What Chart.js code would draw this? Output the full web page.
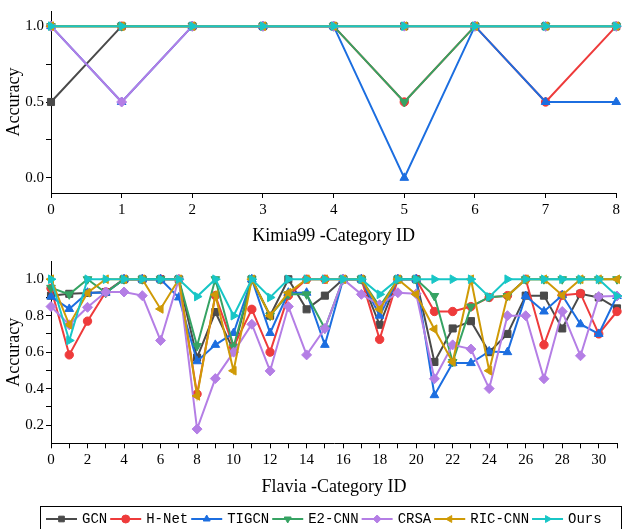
<!DOCTYPE html>
<html>
<head>
<meta charset="utf-8">
<script src="https://cdn.jsdelivr.net/npm/chart.js@4.4.0/dist/chart.umd.min.js"></script>
<style>
  body { margin: 0; background: #fff; }
  #wrap { position: relative; width: 623px; height: 529px; overflow: hidden; }
  canvas { position: absolute; left: 0; }
</style>
</head>
<body>
<div id="wrap">
  <canvas id="kimia" width="623" height="250" style="top:0px"></canvas>
  <canvas id="flavia" width="623" height="279" style="top:250px"></canvas>
</div>
<script>
// 手法
const methods = ['GCN', 'H-Net', 'TIGCN', 'E2-CNN', 'CRSA', 'RIC-CNN', 'Ours'];

// Kimia99
const kimiaIds = [0, 1, 2, 3, 4, 5, 6, 7, 8];
const kimiaYTicks = [0, 0.25, 0.5, 0.75, 1.0];
const kimiaGCN = [0.5, 1, 1, 1, 1, 1, 1, 1, 1];
const kimiaHNet = [1, 1, 1, 1, 1, 0.5, 1, 0.5, 1];
const kimiaTIGCN = [1, 0.5, 1, 1, 1, 0, 1, 0.5, 0.5];
const kimiaE2CNN = [1, 1, 1, 1, 1, 0.5, 1, 1, 1];
const kimiaCRSA = [1, 0.5, 1, 1, 1, 1, 1, 1, 1];
const kimiaRIC = [1, 1, 1, 1, 1, 1, 1, 1, 1];
const kimiaOurs = [1, 1, 1, 1, 1, 1, 1, 1, 1];

// Flavia
const flaviaIds = [0, 1, 2, 3, 4, 5, 6, 7, 8, 9, 10, 11, 12, 13, 14, 15, 16, 17, 18, 19, 20, 21, 22, 23, 24, 25, 26, 27, 28, 29, 30, 31];
const flaviaYTicks = [0.2, 0.3, 0.4, 0.5, 0.6, 0.7, 0.8, 0.9, 1.0];
const flaviaGCN = [0.91, 0.92, 0.925, 0.93, 1, 1, 1, 1, 0.57, 0.82, 0.61, 1, 0.80, 1, 0.835, 0.91, 1, 1, 0.75, 1, 1, 0.546, 0.73, 0.77, 0.60, 0.70, 0.91, 0.91, 0.73, 0.92, 0.90, 0.84];
const flaviaHNet = [0.95, 0.585, 0.77, 0.93, 1, 1, 1, 1, 0.37, 0.91, 0.63, 0.835, 0.60, 0.91, 1, 1, 1, 1, 0.67, 1, 1, 0.823, 0.823, 0.85, 0.90, 0.91, 1, 0.64, 0.912, 0.922, 0.70, 0.823];
const flaviaTIGCN = [0.905, 0.837, 0.926, 0.926, 1, 1, 1, 0.90, 0.55, 0.64, 0.705, 1, 0.705, 0.926, 0.926, 0.64, 1, 1, 0.80, 1, 1, 0.364, 0.54, 0.54, 0.604, 0.60, 0.908, 0.823, 0.912, 0.753, 0.70, 0.908];
const flaviaE2CNN = [0.953, 0.917, 1, 0.926, 1, 1, 1, 1, 0.634, 1, 0.63, 1, 0.80, 0.917, 0.917, 0.73, 1, 1, 0.85, 1, 1, 0.908, 0.546, 0.85, 0.903, 0.908, 1, 1, 1, 1, 1, 1];
const flaviaCRSA = [0.85, 0.75, 0.846, 0.93, 0.93, 0.91, 0.664, 1, 0.178, 0.455, 0.60, 0.753, 0.497, 0.85, 0.585, 0.73, 1, 0.917, 0.86, 0.926, 0.92, 0.454, 0.64, 0.617, 0.40, 0.80, 0.80, 0.454, 0.823, 0.58, 0.905, 0.908];
const flaviaRIC = [1, 0.75, 0.926, 1, 1, 1, 0.837, 1, 0.36, 0.915, 0.498, 1, 0.80, 0.926, 1, 1, 1, 1, 0.835, 1, 0.917, 0.726, 0.546, 1, 0.498, 0.908, 1, 1, 0.912, 1, 1, 1];
const flaviaOurs = [1, 0.664, 1, 1, 1, 1, 1, 1, 0.905, 1, 0.80, 1, 0.90, 1, 1, 1, 1, 1, 0.917, 1, 1, 1, 1, 1, 0.903, 1, 1, 1, 1, 1, 1, 0.908];

// 見た目
const colors = ['#4a4a4a', '#ee3b3b', '#1c6ee0', '#36a363', '#b47ee5', '#cf9a06', '#18c6c6'];
const markers = ['rect', 'circle', 'triangle', 'triangle', 'rectRot', 'triangle', 'triangle'];
const rotations = [0, 0, 0, 180, 0, 270, 90];
const sizes = [5, 4.2, 5, 5, 5, 5, 5];
const serif = 'Liberation Serif';

function makeSets(ids, series) {
  return methods.map((name, k) => ({
    label: name,
    data: ids.map((id, i) => ({ x: id, y: series[k][i] })),
    borderColor: colors[k],
    backgroundColor: colors[k],
    pointStyle: markers[k],
    rotation: rotations[k],
    pointRadius: sizes[k],
    pointHoverRadius: sizes[k],
    pointBorderWidth: 1,
    borderWidth: 2,
    tension: 0,
    clip: 8,
    order: methods.length - k // 後の手法ほど上に描く
  }));
}

function axisX(ids, maxV, title, labelEvery, height, titlePad) {
  return {
    type: 'linear', min: 0, max: maxV,
    afterBuildTicks: s => { s.ticks = ids.map(v => ({ value: v })); },
    afterFit: s => { s.height = height; },
    ticks: {
      autoSkip: false, maxRotation: 0, padding: 3, color: '#000',
      font: { family: serif, size: 15 },
      callback: v => (v % labelEvery === 0 ? String(v) : '')
    },
    grid: { drawOnChartArea: false, color: '#000', tickLength: 5 },
    border: { color: '#000', width: 1 },
    title: { display: true, text: title, color: '#000', font: { family: serif, size: 18 }, padding: { top: 0, bottom: titlePad } }
  };
}

function axisY(minV, maxV, tickVals, isMajor) {
  return {
    min: minV, max: maxV,
    afterBuildTicks: s => { s.ticks = tickVals.map(v => ({ value: v })); },
    afterFit: s => { s.width = 51; },
    ticks: {
      padding: 2, color: '#000',
      font: { family: serif, size: 15 },
      callback: v => (isMajor(v) ? v.toFixed(1) : '')
    },
    grid: { drawOnChartArea: false, color: '#000', tickLength: 5 },
    border: { color: '#000', width: 1 },
    title: { display: true, text: 'Accuracy', color: '#000', font: { family: serif, size: 18 }, padding: { top: 3, bottom: 0 } }
  };
}

// 凡例（枠付き）
const legendBox = {
  id: 'legendBox',
  afterDraw(chart) {
    const ctx = chart.ctx;
    ctx.save();
    ctx.strokeStyle = '#000';
    ctx.lineWidth = 1;
    ctx.strokeRect(40.5, 256.5, 581, 40);
    ctx.font = '14px "Liberation Mono"';
    ctx.textBaseline = 'middle';
    let x = 46;
    const y = 269;
    chart.data.datasets.forEach(ds => {
      ctx.strokeStyle = ds.borderColor;
      ctx.lineWidth = 2;
      ctx.beginPath();
      ctx.moveTo(x, y);
      ctx.lineTo(x + 31, y);
      ctx.stroke();
      ctx.fillStyle = ds.borderColor;
      ctx.lineWidth = 1;
      Chart.helpers.drawPoint(ctx, { pointStyle: ds.pointStyle, radius: 4, rotation: ds.rotation, borderWidth: 1 }, x + 15.5, y);
      ctx.fillStyle = '#000';
      ctx.fillText(ds.label, x + 36, y);
      x += 36 + ctx.measureText(ds.label).width + 3;
    });
    ctx.restore();
  }
};

new Chart(document.getElementById('kimia'), {
  type: 'line',
  data: { datasets: makeSets(kimiaIds, [kimiaGCN, kimiaHNet, kimiaTIGCN, kimiaE2CNN, kimiaCRSA, kimiaRIC, kimiaOurs]) },
  options: {
    responsive: false, animation: false,
    layout: { padding: { top: 3.5, right: 5, left: 0, bottom: 0 } },
    plugins: { legend: { display: false }, tooltip: { enabled: false } },
    scales: {
      x: axisX(kimiaIds, 8, 'Kimia99 -Category ID', 1, 57, 3),
      y: axisY(-0.1, 1.1, kimiaYTicks, v => Math.abs(v * 2 - Math.round(v * 2)) < 1e-6)
    }
  }
});

new Chart(document.getElementById('flavia'), {
  type: 'line',
  data: { datasets: makeSets(flaviaIds, [flaviaGCN, flaviaHNet, flaviaTIGCN, flaviaE2CNN, flaviaCRSA, flaviaRIC, flaviaOurs]) },
  options: {
    responsive: false, animation: false,
    layout: { padding: { top: 3, right: 3, left: 0, bottom: 29.7 } },
    plugins: { legend: { display: false }, tooltip: { enabled: false } },
    scales: {
      x: axisX(flaviaIds, 31, 'Flavia -Category ID', 2, 56, 1.5),
      y: axisY(0.1, 1.1, flaviaYTicks, v => Math.abs(v * 5 - Math.round(v * 5)) < 1e-6)
    }
  },
  plugins: [legendBox]
});
</script>
</body>
</html>
